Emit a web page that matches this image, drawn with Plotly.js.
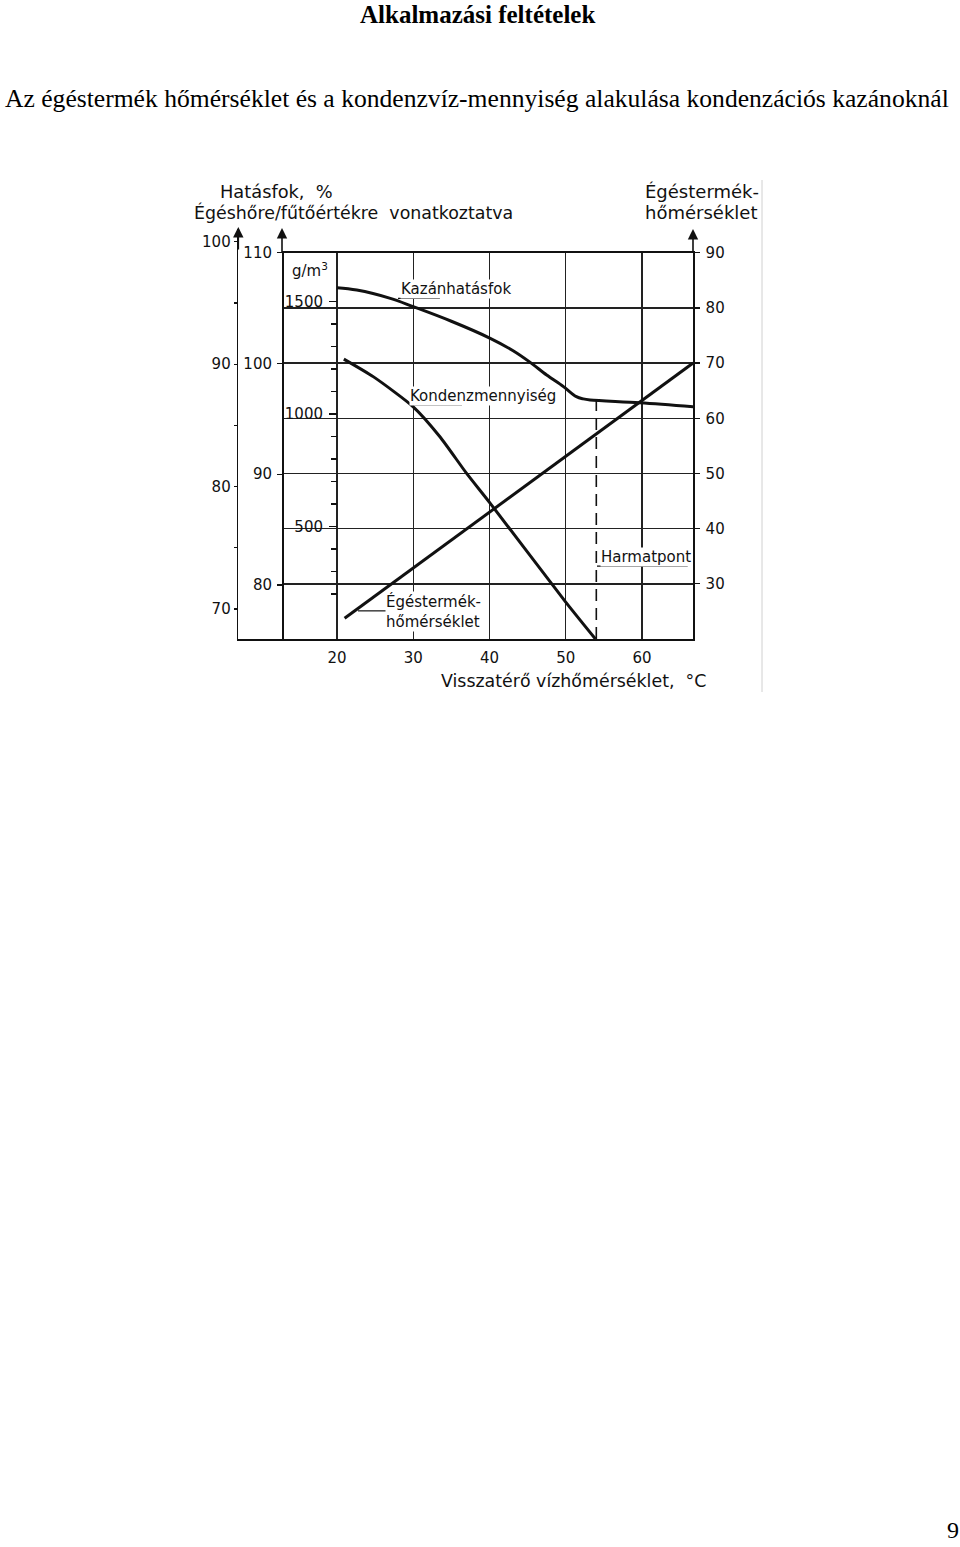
<!DOCTYPE html>
<html><head><meta charset="utf-8">
<script src="https://cdn.plot.ly/plotly-3.0.1.min.js"></script>
<style>html,body{margin:0;padding:0;background:#fff;}#chart{width:960px;height:1547px;}</style>
</head><body><div id="chart"></div>
<script>
// ---- data ----
const returnTempTicks = [20, 30, 40, 50, 60];              // °C, x axis
const flueTempTicks = [30, 40, 50, 60, 70, 80, 90];        // right axis, °C
const effNetTicks = [80, 90, 100, 110];                    // % fűtőértékre
const effGrossTicks = [70, 80, 90, 100];                   // % égéshőre
const effGrossMinor = [75, 85, 95];
const condTicks = [500, 1000, 1500];                       // g/m3
const condMinor = [200, 300, 400, 600, 700, 800, 900, 1100, 1200, 1300, 1400];

// Kazánhatásfok (efficiency, % on the fűtőérték / 110 scale)
const effReturnTemp = [20.0, 22.6, 27.0, 30.0, 35.0, 40.1, 43.1, 45.3, 47.5, 49.7, 51.4, 52.3, 53.2, 59.7, 66.7];
const effValues     = [106.84, 106.63, 105.88, 105.13, 103.81, 102.27, 101.15, 100.12, 98.96, 97.91, 97.0, 96.80, 96.71, 96.46, 96.10];

// Kondenzmennyiség (g/m3)
const condReturnTemp = [20.9, 24.8, 30.0, 33.5, 37.0, 40.1, 50.0, 53.9];
const condValues     = [1244, 1165, 1032, 899, 736, 603, 164, 0];

// Égéstermék-hőmérséklet (°C)
const flueReturnTemp = [21.0, 66.7];
const flueValues     = [23.75, 70.0];

// Harmatpont (dew point), drawn against the égéshő efficiency scale
const dewPointTemp = [54.0, 54.0];
const dewPointEff  = [67.55, 87.02];

// ---- page geometry helpers (pixel -> paper) ----
const W = 960, H = 1547;
const PX = v => v / W;
const PY = v => 1 - v / H;
const FONT = '"DejaVu Sans", Verdana, sans-serif';
const SERIF = '"Liberation Serif", "Times New Roman", serif';
const INK = '#111';
const GRID = '#222';
const NB = '\u00a0';

const lineStyle = {color: INK, width: 3};

const traces = [
  {x: flueReturnTemp, y: flueValues, xaxis: 'x', yaxis: 'y', mode: 'lines',
   line: lineStyle, hoverinfo: 'skip', name: 'Égéstermék-hőmérséklet'},
  {x: effReturnTemp, y: effValues, xaxis: 'x', yaxis: 'y2', mode: 'lines',
   line: Object.assign({shape: 'spline', smoothing: 1.0}, lineStyle), hoverinfo: 'skip', name: 'Kazánhatásfok'},
  {x: condReturnTemp, y: condValues, xaxis: 'x', yaxis: 'y4', mode: 'lines',
   line: Object.assign({shape: 'spline', smoothing: 0.6}, lineStyle), hoverinfo: 'skip', name: 'Kondenzmennyiség'},
  {x: dewPointTemp, y: dewPointEff, xaxis: 'x2', yaxis: 'y3', mode: 'lines',
   line: {color: INK, width: 1.6, dash: '12px,7px'}, hoverinfo: 'skip', name: 'Harmatpont'}
];

const tickFont = {family: FONT, size: 15, color: INK};
const mainDomain = [PY(639), PY(252.7)];

const layout = {
  width: W, height: H,
  margin: {l: 0, r: 0, t: 0, b: 0},
  paper_bgcolor: '#fff', plot_bgcolor: 'rgba(0,0,0,0)',
  showlegend: false,
  xaxis: {
    domain: [PX(282), PX(693)], range: [12.79, 66.69], anchor: 'y',
    tickmode: 'array', tickvals: returnTempTicks, ticks: '', ticklabelstandoff: 4,
    showgrid: true, gridcolor: GRID, gridwidth: 1.4, zeroline: false,
    showline: true, mirror: true, linecolor: INK, linewidth: 1.6, tickfont: tickFont, fixedrange: true
  },
  xaxis2: {
    domain: [PX(238.3), PX(693)], range: [7.016, 66.69], anchor: 'y3',
    showticklabels: false, ticks: '', showgrid: false, zeroline: false,
    showline: true, linecolor: INK, linewidth: 1.6, fixedrange: true
  },
  yaxis: {
    domain: mainDomain, range: [20, 90], anchor: 'x', side: 'right',
    tickmode: 'array', tickvals: flueTempTicks, ticks: 'outside', ticklen: 5, tickwidth: 1.3, tickcolor: INK,
    ticklabelstandoff: 3, showgrid: true, gridcolor: GRID, gridwidth: 1.4, zeroline: false,
    showline: true, linecolor: INK, linewidth: 1.6, tickfont: tickFont, fixedrange: true
  },
  yaxis2: {
    overlaying: 'y', anchor: 'free', position: PX(282), side: 'left', range: [75.125, 110],
    tickmode: 'array', tickvals: effNetTicks, ticks: 'outside', ticklen: 5, tickwidth: 1.3, tickcolor: INK,
    ticklabelstandoff: 2, showgrid: false, zeroline: false,
    showline: true, linecolor: INK, linewidth: 1.6, tickfont: tickFont, fixedrange: true
  },
  yaxis3: {
    domain: [PY(639), PY(229)], anchor: 'x2', side: 'left', range: [67.55, 101.04],
    tickmode: 'array', tickvals: effGrossTicks, ticks: 'outside', ticklen: 3, tickwidth: 1.2, tickcolor: INK,
    minor: {tickvals: effGrossMinor, ticks: 'outside', ticklen: 3, tickwidth: 1.2, tickcolor: INK},
    ticklabelstandoff: 0, showgrid: false, zeroline: false,
    showline: true, linecolor: INK, linewidth: 1.6, tickfont: tickFont, fixedrange: true
  },
  yaxis4: {
    overlaying: 'y', anchor: 'free', position: PX(337), side: 'left', range: [0, 1716.9],
    tickmode: 'array', tickvals: condTicks, ticks: 'outside', ticklen: 8, tickwidth: 1.5, tickcolor: INK,
    minor: {tickvals: condMinor, ticks: 'outside', ticklen: 6, tickwidth: 1.5, tickcolor: INK},
    ticklabelstandoff: 3, showgrid: false, zeroline: false, showline: false,
    tickfont: tickFont, fixedrange: true
  },
  shapes: [
    // leader lines under labels (data coords)
    {type: 'line', xref: 'x', yref: 'y', x0: 28.0, x1: 33.5, y0: 81.73, y1: 81.73, line: {color: INK, width: 1.2}},
    {type: 'line', xref: 'x', yref: 'y', x0: 29.57, x1: 36.4, y0: 62.4, y1: 62.4, line: {color: INK, width: 1.2}},
    {type: 'line', xref: 'x', yref: 'y', x0: 54.1, x1: 66.0, y0: 33.2, y1: 33.2, line: {color: INK, width: 1.2}},
    {type: 'line', xref: 'x', yref: 'y', x0: 22.75, x1: 26.45, y0: 25.1, y1: 25.1, line: {color: INK, width: 1.2}},
    // faint scan border
    {type: 'line', xref: 'paper', yref: 'paper', x0: PX(762), x1: PX(762), y0: PY(180), y1: PY(692),
     line: {color: '#d0d0d0', width: 1}}
  ],
  annotations: [
    // axis arrows
    {xref: 'paper', yref: 'paper', x: PX(238.3), y: PY(227), ax: 0, ay: 24, text: '', showarrow: true,
     arrowhead: 2, arrowsize: 1.3, arrowwidth: 1.6, arrowcolor: INK},
    {xref: 'paper', yref: 'paper', x: PX(282), y: PY(228), ax: 0, ay: 26, text: '', showarrow: true,
     arrowhead: 2, arrowsize: 1.3, arrowwidth: 1.6, arrowcolor: INK},
    {xref: 'paper', yref: 'paper', x: PX(693), y: PY(229), ax: 0, ay: 25, text: '', showarrow: true,
     arrowhead: 2, arrowsize: 1.3, arrowwidth: 1.6, arrowcolor: INK},
    // page titles
    {xref: 'paper', yref: 'paper', x: PX(477), y: PY(14.8), xanchor: 'center', yanchor: 'middle',
     text: '<b>Alkalmazási feltételek</b>', showarrow: false, font: {family: SERIF, size: 25, color: '#000'}},
    {xref: 'paper', yref: 'paper', x: PX(477), y: PY(98), xanchor: 'center', yanchor: 'middle',
     text: 'Az égéstermék hőmérséklet és a kondenzvíz-mennyiség alakulása kondenzációs kazánoknál',
     showarrow: false, font: {family: SERIF, size: 25.6, color: '#000'}},
    {xref: 'paper', yref: 'paper', x: PX(953), y: PY(1530), xanchor: 'center', yanchor: 'middle',
     text: '9', showarrow: false, font: {family: SERIF, size: 24, color: '#000'}},
    // axis titles
    {xref: 'paper', yref: 'paper', x: PX(218), y: PY(191), xanchor: 'left', yanchor: 'middle',
     text: 'Hatásfok,' + NB + NB + '%', showarrow: false, font: {family: FONT, size: 17.8, color: INK}},
    {xref: 'paper', yref: 'paper', x: PX(192), y: PY(213), xanchor: 'left', yanchor: 'middle',
     text: 'Égéshőre/fűtőértékre' + NB + NB + 'vonatkoztatva', showarrow: false, font: {family: FONT, size: 17.4, color: INK}},
    {xref: 'paper', yref: 'paper', x: PX(702), y: PY(191), xanchor: 'center', yanchor: 'middle',
     text: 'Égéstermék-', showarrow: false, font: {family: FONT, size: 18, color: INK}},
    {xref: 'paper', yref: 'paper', x: PX(701), y: PY(213), xanchor: 'center', yanchor: 'middle',
     text: 'hőmérséklet', showarrow: false, font: {family: FONT, size: 18, color: INK}},
    {xref: 'paper', yref: 'paper', x: PX(573), y: PY(681), xanchor: 'center', yanchor: 'middle',
     text: 'Visszatérő vízhőmérséklet,' + NB + NB + '°C', showarrow: false, font: {family: FONT, size: 17.4, color: INK}},
    {xref: 'paper', yref: 'paper', x: PX(310), y: PY(270), xanchor: 'center', yanchor: 'middle',
     text: 'g/m<sup>3</sup>', showarrow: false, font: {family: FONT, size: 15, color: INK}},
    // curve labels
    {xref: 'x', yref: 'y', x: 28.2, y: 83.4, xanchor: 'left', yanchor: 'middle', text: 'Kazánhatásfok', showarrow: false,
     bgcolor: '#fff', borderpad: 0, font: {family: FONT, size: 15, color: INK}},
    {xref: 'x', yref: 'y', x: 29.5, y: 64.1, xanchor: 'left', yanchor: 'middle', text: 'Kondenzmennyiség', showarrow: false,
     bgcolor: '#fff', borderpad: 0, font: {family: FONT, size: 15, color: INK}},
    {xref: 'x', yref: 'y', x: 54.45, y: 34.9, xanchor: 'left', yanchor: 'middle', text: 'Harmatpont', showarrow: false,
     bgcolor: '#fff', borderpad: 0, font: {family: FONT, size: 15, color: INK}},
    {xref: 'x', yref: 'y', x: 26.35, y: 24.9, xanchor: 'left', yanchor: 'middle', align: 'left',
     text: 'Égéstermék-<br>hőmérséklet', showarrow: false, bgcolor: '#fff', borderpad: 0,
     font: {family: FONT, size: 15, color: INK}}
  ]
};

Plotly.newPlot('chart', traces, layout, {staticPlot: true, displayModeBar: false});
</script>
</body></html>
